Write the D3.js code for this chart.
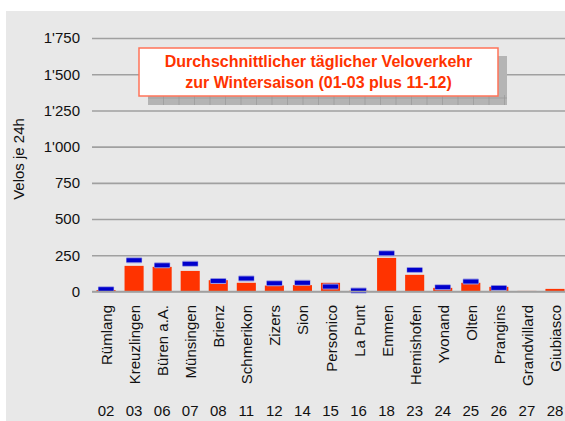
<!DOCTYPE html>
<html>
<head>
<meta charset="utf-8">
<script src="https://cdn.jsdelivr.net/npm/d3@7"></script>
<style>
  body { margin: 0; background: #fff; }
  svg { display: block; font-family: "Liberation Sans", Arial, sans-serif; }
</style>
</head>
<body>
<script>
// station names, codes and values (Velos je 24h)
var stations = ["Rümlang", "Kreuzlingen", "Büren a.A.", "Münsingen", "Brienz", "Schmerikon", "Zizers", "Sion",
    "Personico", "La Punt", "Emmen", "Hemishofen", "Yvonand", "Olten", "Prangins", "Grandvillard", "Giubiasco"];
var codes = ["02", "03", "06", "07", "08", "11", "12", "14", "15", "16", "18", "23", "24", "25", "26", "27", "28"];
var winterValues = [10, 177, 170, 142, 78, 60, 41, 44, 60, 5, 232, 115, 25, 60, 32, 4, 18];
var markerValues = [16, 216, 181, 191, 73, 90, 57, 60, 34, 7, 264, 149, 30, 69, 25, null, null];
var yTicks = [0, 250, 500, 750, 1000, 1250, 1500, 1750];
var titleLines = ["Durchschnittlicher täglicher Veloverkehr", "zur Wintersaison (01-03 plus 11-12)"];

var width = 565, height = 421;
var margin = { top: 38, left: 92, bottom: 291.5, right: 569 };

var svg = d3.select("body").append("svg")
    .attr("width", width)
    .attr("height", height);

// panel background
svg.append("rect")
    .attr("x", 6).attr("y", 11)
    .attr("width", width - 6).attr("height", height - 11)
    .attr("fill", "#e8e8e8");

var x = d3.scaleBand()
    .domain(stations)
    .range([margin.left, margin.right])
    .paddingInner(0.32)
    .paddingOuter(0.16);

var y = d3.scaleLinear()
    .domain([0, 1750])
    .range([margin.bottom, margin.top]);

// grid lines + y labels
var yAxis = svg.append("g")
    .attr("transform", "translate(" + margin.left + ",0)")
    .call(d3.axisLeft(y)
        .tickValues(yTicks)
        .tickSize(-(margin.right - margin.left))
        .tickPadding(12)
        .tickFormat(function (d) { return d3.format(",")(d).replace(/,/g, "'"); }));
yAxis.select(".domain").remove();
yAxis.selectAll("line")
    .attr("stroke", "#a0a0a0")
    .attr("stroke-width", 1.6);
yAxis.selectAll("text")
    .attr("fill", "#111")
    .style("font-size", "15px")
    .style("font-family", "Liberation Sans, Arial, sans-serif");

svg.append("text")
    .attr("transform", "translate(24,159) rotate(-90)")
    .attr("text-anchor", "middle")
    .style("font-size", "15px")
    .attr("fill", "#111")
    .text("Velos je 24h");

// title box with shadow
var box = { x: 139, y: 48, w: 359, h: 48 };
var shadow = svg.append("g");
shadow.append("rect")
    .attr("x", box.x + 9).attr("y", box.y + 8)
    .attr("width", box.w).attr("height", box.h + 1)
    .attr("fill", "#b4b4b4");
shadow.selectAll("line.v")
    .data(d3.range(box.x + 9 + 15.5, box.x + 9 + box.w, 15.5))
    .enter().append("line")
    .attr("x1", function (d) { return d; }).attr("x2", function (d) { return d; })
    .attr("y1", box.y + box.h - 1).attr("y2", box.y + box.h + 9)
    .attr("stroke", "#999").attr("stroke-width", 0.7);
shadow.append("line")
    .attr("x1", box.x + 9).attr("x2", box.x + 9 + box.w)
    .attr("y1", box.y + box.h + 2).attr("y2", box.y + box.h + 2)
    .attr("stroke", "#999").attr("stroke-width", 0.7);

svg.append("rect")
    .attr("x", box.x).attr("y", box.y)
    .attr("width", box.w).attr("height", box.h)
    .attr("fill", "#fff")
    .attr("stroke", "#ff7358")
    .attr("stroke-width", 1.5);

svg.selectAll("text.title")
    .data(titleLines)
    .enter().append("text")
    .attr("class", "title")
    .attr("x", box.x + box.w / 2)
    .attr("y", function (d, i) { return 67 + i * 21; })
    .attr("text-anchor", "middle")
    .attr("fill", "#ff3300")
    .style("font-size", "16px")
    .style("font-weight", "bold")
    .text(function (d) { return d; });

// bars
svg.append("g")
    .selectAll("rect")
    .data(stations)
    .enter().append("rect")
    .attr("x", function (d) { return x(d); })
    .attr("y", function (d, i) { return y(winterValues[i]); })
    .attr("width", x.bandwidth())
    .attr("height", function (d, i) { return y(0) - y(winterValues[i]); })
    .attr("fill", "#ff3300");

// markers
var mk = svg.append("g")
    .selectAll("g")
    .data(stations.map(function (d, i) { return { name: d, v: markerValues[i] }; })
        .filter(function (d) { return d.v != null; }))
    .enter().append("g");
mk.append("rect")
    .attr("x", function (d) { return x(d.name) + 1.5; })
    .attr("y", function (d) { return y(d.v) - 3; })
    .attr("width", x.bandwidth() - 3)
    .attr("height", 6)
    .attr("rx", 1)
    .attr("fill", "#9a9ae0");
mk.append("rect")
    .attr("x", function (d) { return x(d.name) + 2; })
    .attr("y", function (d) { return y(d.v) - 2; })
    .attr("width", x.bandwidth() - 4)
    .attr("height", 4)
    .attr("fill", "#0000cc");

// base line
svg.append("line")
    .attr("x1", margin.left).attr("x2", margin.right)
    .attr("y1", y(0)).attr("y2", y(0))
    .attr("stroke", "#a0a0a0").attr("stroke-width", 1.6);

// category labels
svg.append("g")
    .selectAll("text")
    .data(stations)
    .enter().append("text")
    .attr("transform", function (d) {
        return "translate(" + (x(d) + x.bandwidth() / 2 + 6) + ",305) rotate(-90)";
    })
    .attr("text-anchor", "end")
    .attr("fill", "#111")
    .style("font-size", "15px")
    .text(function (d) { return d; });

svg.append("g")
    .selectAll("text")
    .data(stations)
    .enter().append("text")
    .attr("x", function (d) { return x(d) + x.bandwidth() / 2; })
    .attr("y", 416)
    .attr("text-anchor", "middle")
    .attr("fill", "#111")
    .style("font-size", "15px")
    .text(function (d, i) { return codes[i]; });
</script>
</body>
</html>
